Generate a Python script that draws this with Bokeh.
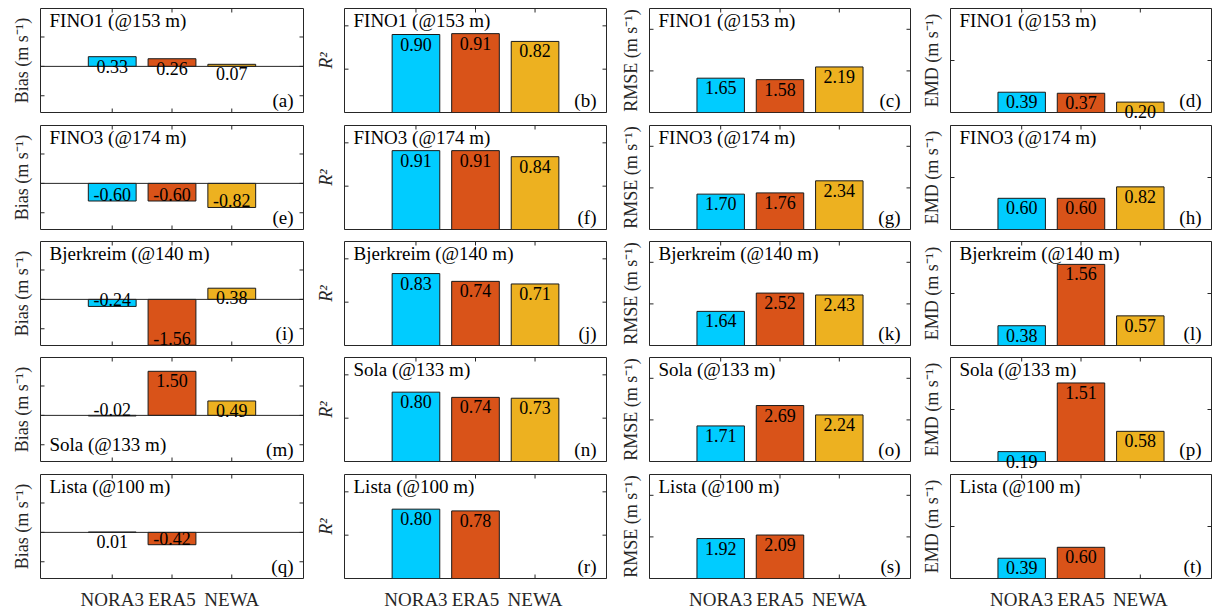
import math
from bokeh.plotting import figure
from bokeh.layouts import gridplot
from bokeh.models import Range1d, FixedTicker, Label, Span, ColumnDataSource
from bokeh.embed import file_html
from bokeh.resources import INLINE

# ---------------- data ----------------
models = ["NORA3", "ERA5", "NEWA"]
model_colors = ["#00CCFF", "#D95319", "#EDB120"]
stations = ["FINO1 (@153 m)", "FINO3 (@174 m)", "Bjerkreim (@140 m)", "Sola (@133 m)", "Lista (@100 m)"]

bias = [[0.33, 0.26, 0.07],
        [-0.60, -0.60, -0.82],
        [-0.24, -1.56, 0.38],
        [-0.02, 1.50, 0.49],
        [0.01, -0.42, None]]
r2 = [[0.90, 0.91, 0.82],
      [0.91, 0.91, 0.84],
      [0.83, 0.74, 0.71],
      [0.80, 0.74, 0.73],
      [0.80, 0.78, None]]
rmse = [[1.65, 1.58, 2.19],
        [1.70, 1.76, 2.34],
        [1.64, 2.52, 2.43],
        [1.71, 2.69, 2.24],
        [1.92, 2.09, None]]
emd = [[0.39, 0.37, 0.20],
       [0.60, 0.60, 0.82],
       [0.38, 1.56, 0.57],
       [0.19, 1.51, 0.58],
       [0.39, 0.60, None]]

metrics = [bias, r2, rmse, emd]
metric_labels = ["Bias (m s\u207b\u00b9)", "R\u00b2", "RMSE (m s\u207b\u00b9)", "EMD (m s\u207b\u00b9)"]
y_limits = [(-1.57, 1.97), (0.0, 1.2), (0.0, 5.0), (0.0, 2.0)]
y_ticks = [[-1, 0, 1], [0, 0.5, 1], [0, 2, 4], [0, 1, 2]]
x_ticks = [1, 2, 3]
x_limits = (-0.2, 4.2)
panel_letters = "abcdefghijklmnopqrst"

# ---------------- style / layout ----------------
FONT = "Liberation Serif"
AX = "#262626"
col_frame_w = [263, 262, 261, 261]
col_border_left = [40, 32, 32, 32]
col_border_right = [9, 11, 8, 1]
row_border_top = [8, 0, 1, 1, 0]
row_border_bottom = [13, 11, 11, 13, 30]
FRAME_H = 104

plots = []
for i in range(5):
    row = []
    last = (i == 4)
    for j in range(4):
        y0, y1 = y_limits[j]
        x0, x1 = x_limits
        p = figure(frame_width=col_frame_w[j], frame_height=FRAME_H,
                   x_range=Range1d(x0, x1), y_range=Range1d(y0, y1),
                   output_backend="svg", toolbar_location=None,
                   min_border_left=col_border_left[j], min_border_right=col_border_right[j],
                   min_border_top=row_border_top[i], min_border_bottom=row_border_bottom[i])
        p.grid.visible = False
        p.outline_line_color = AX
        p.outline_line_width = 1
        p.background_fill_color = "white"
        p.border_fill_color = None

        # left axis: only its title
        ya = p.yaxis[0]
        ya.ticker = FixedTicker(ticks=[])
        ya.major_tick_in = 0
        ya.major_tick_out = 0
        ya.minor_tick_in = 0
        ya.minor_tick_out = 0
        ya.major_label_standoff = 0
        ya.axis_line_color = None
        ya.axis_label = metric_labels[j]
        ya.axis_label_text_font = FONT
        ya.axis_label_text_font_size = "18px"
        ya.axis_label_text_color = AX
        ya.axis_label_text_font_style = "italic" if j == 1 else "normal"
        ya.axis_label_standoff = 9

        # bottom axis: category labels only on the last row
        xa = p.xaxis[0]
        if last:
            xa.ticker = FixedTicker(ticks=x_ticks)
            xa.major_label_overrides = {1: models[0], 2: models[1], 3: models[2]}
            xa.major_label_text_font = FONT
            xa.major_label_text_font_size = "19px"
            xa.major_label_text_color = AX
            xa.major_label_standoff = 10
            xa.major_tick_in = 0
            xa.major_tick_out = 0
            xa.minor_tick_in = 0
            xa.minor_tick_out = 0
            xa.axis_line_color = None
        else:
            xa.visible = False

        # inward tick marks on all four sides (clipped to the frame)
        p.scatter(x=[x0] * len(y_ticks[j]), y=y_ticks[j], marker="dash", size=8,
                  line_color=AX, line_width=1)
        p.scatter(x=[x1] * len(y_ticks[j]), y=y_ticks[j], marker="dash", size=8,
                  line_color=AX, line_width=1)
        p.scatter(x=x_ticks, y=[y1] * len(x_ticks), marker="dash", size=8, angle=math.pi / 2,
                  line_color=AX, line_width=1)
        p.scatter(x=x_ticks, y=[y0] * len(x_ticks), marker="dash", size=8, angle=math.pi / 2,
                  line_color=AX, line_width=1)

        # bars
        vals = metrics[j][i]
        xs, tops, cols = [], [], []
        for k, v in enumerate(vals):
            if v is None:
                continue
            xs.append(k + 1)
            tops.append(v)
            cols.append(model_colors[k])
        src = ColumnDataSource(dict(x=xs, top=tops, color=cols))
        p.vbar(x="x", top="top", bottom=0, width=0.8, fill_color="color",
               line_color="#1a1a1a", line_width=1, source=src)

        if j == 0:
            p.add_layout(Span(location=0, dimension="width", line_color=AX, line_width=1))

        # value labels at the bar ends
        for xv, v in zip(xs, tops):
            if v >= 0:
                lab = Label(x=xv, y=v, y_offset=-3, text="%.2f" % v, text_align="center",
                            text_baseline="top", text_font=FONT, text_font_size="18px",
                            text_color="black")
                # labels that hang below the bottom edge of the axes go to the side panel
                bar_px = (v - y0) / (y1 - y0) * FRAME_H
                if bar_px < 17:
                    p.add_layout(lab, "below")
                    continue
            else:
                lab = Label(x=xv, y=v, y_offset=0, text="%.2f" % v, text_align="center",
                            text_baseline="bottom", text_font=FONT, text_font_size="18px",
                            text_color="black")
            p.add_layout(lab)

        # station label
        if i == 3 and j == 0:
            st = Label(x=x0, y=y0, x_offset=9, y_offset=17, text=stations[i],
                       text_baseline="middle", text_font=FONT, text_font_size="19px", text_color="black")
        else:
            st = Label(x=x0, y=y1, x_offset=9, y_offset=-12, text=stations[i],
                       text_baseline="middle", text_font=FONT, text_font_size="19px", text_color="black")
        p.add_layout(st)

        # panel letter
        lt = Label(x=x1, y=y0, x_offset=-10, y_offset=12, text="(%s)" % panel_letters[i * 4 + j],
                   text_align="right", text_baseline="middle", text_font=FONT,
                   text_font_size="19px", text_color="black")
        p.add_layout(lt)

        row.append(p)
    plots.append(row)

grid = gridplot(plots, toolbar_location=None)
open("out.html", "w").write(file_html(grid, INLINE))
